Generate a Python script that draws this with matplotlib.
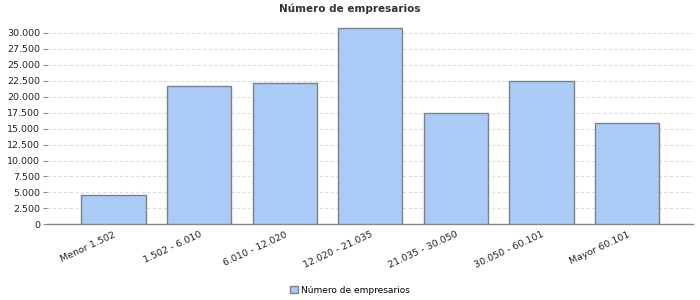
import matplotlib
matplotlib.use("Agg")
import matplotlib.pyplot as plt
from matplotlib.ticker import FuncFormatter, MultipleLocator

categories = ["Menor 1.502", "1.502 - 6.010", "6.010 - 12.020", "12.020 - 21.035",
              "21.035 - 30.050", "30.050 - 60.101", "Mayor 60.101"]
values = [4550, 21600, 22150, 30780, 17430, 22460, 15860]
series_name = "Número de empresarios"
title = "Número de empresarios"

fig = plt.figure(figsize=(7, 3), dpi=100)
ax = fig.add_axes([0.067, 0.252, 0.923, 0.675])

x = list(range(len(categories)))
ax.bar(x, values, width=0.75, color="#a9cbf5", edgecolor="#808080", linewidth=1.0,
       label=series_name, zorder=3)

ax.set_xlim(-0.777, 6.77)
ax.set_ylim(0, 31700)
ax.yaxis.set_major_locator(MultipleLocator(2500))
ax.yaxis.set_major_formatter(FuncFormatter(lambda v, p: f"{int(v):,}".replace(",", ".")))
ax.grid(axis="y", color="#dddddd", linestyle=(0, (3, 2)), linewidth=0.8, zorder=0)

for s in ["top", "right", "left"]:
    ax.spines[s].set_visible(False)
ax.spines["bottom"].set_color("#888888")
ax.spines["bottom"].set_linewidth(1.0)

ax.tick_params(axis="y", length=3, color="#888888", labelsize=6.8, pad=2, labelcolor="#222222")
ax.tick_params(axis="x", length=0, labelsize=6.8, pad=4, labelcolor="#222222")
ax.set_xticks(x)
ax.set_xticklabels(categories, rotation=25, ha="right", rotation_mode="anchor")

fig.suptitle(title, x=0.5, y=0.99, fontsize=7.5, fontweight="bold", color="#333333", va="top")

leg = fig.legend(loc="center", bbox_to_anchor=(0.5, 0.033), frameon=False, fontsize=6.5,
                 handlelength=0.9, handleheight=0.9, handletextpad=0.4)

fig.savefig("out.png", dpi=100)
